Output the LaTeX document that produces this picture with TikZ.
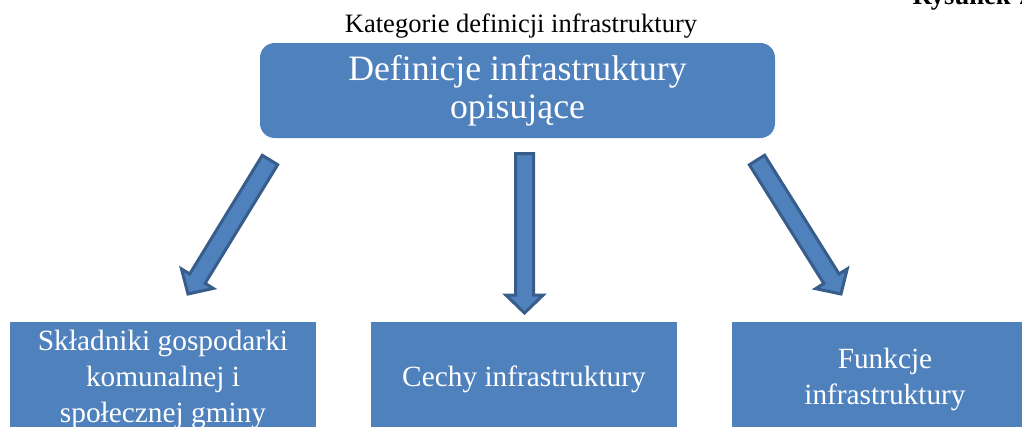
\documentclass[tikz,border=0pt]{standalone}
\usepackage{fontspec}
\setmainfont{Liberation Serif}
\usetikzlibrary{calc}
\definecolor{boxblue}{RGB}{79,129,189}
\definecolor{edgeblue}{RGB}{56,93,138}

% block arrow from tail #1 to tip #2; #3 names the point where the head starts
\newcommand\blockarrow[3]{%
  \coordinate (#3) at ($(#2)!13.5pt!(#1)$);
  \draw[arrowshape]
    ($(#1)!6.75pt!90:(#2)$) -- ($(#3)!6.75pt!90:(#2)$) -- ($(#3)!14pt!90:(#2)$)
    -- (#2) -- ($(#3)!14pt!-90:(#2)$) -- ($(#3)!6.75pt!-90:(#2)$)
    -- ($(#1)!6.75pt!-90:(#2)$) -- cycle;
}

\begin{document}
\begin{tikzpicture}[x=0.75pt,y=-0.75pt,
  topbox/.style={fill=boxblue, rounded corners=11pt, text=white, align=center,
    minimum width=386.25pt, minimum height=71.25pt, inner sep=0pt,
    font=\fontsize{26.8}{28.3}\selectfont},
  lowbox/.style={fill=boxblue, text=white, align=center,
    minimum width=229.5pt, minimum height=85.5pt, inner sep=0pt,
    font=\fontsize{22}{27}\selectfont},
  arrowshape/.style={fill=boxblue, draw=edgeblue, line width=2.25pt, line join=miter},
  caption/.style={font=\fontsize{19.9}{22}\selectfont, anchor=base}]
\useasboundingbox (0,0) rectangle (1022,426);
\clip (0,0) rectangle (1022,426);

\node[caption] (cap) at (521,32) {Kategorie definicji infrastruktury};
\node[caption, anchor=base west, font=\bfseries\fontsize{19.9}{22}\selectfont] (fig) at (908,4) {Rysunek 7};

\node[topbox] (top) at (517.5,90.5) {Definicje infrastruktury\\opisujące};

\node[lowbox] (left) at (163,379) {Składniki gospodarki\\komunalnej i\\społecznej gminy};
\node[lowbox] (mid) at (524,379) {Cechy infrastruktury};
\node[lowbox] (right) at (885,379) {Funkcje\\infrastruktury};

% arrows below the top box
\coordinate (lt) at (270,160);
\coordinate (lh) at (188,294);
\coordinate (mt) at (524.5,153.5);
\coordinate (mh) at (524.5,313);
\coordinate (rt) at (757,160);
\coordinate (rh) at (841,294);
\blockarrow{lt}{lh}{lb}
\blockarrow{mt}{mh}{mb}
\blockarrow{rt}{rh}{rb}
\end{tikzpicture}
\end{document}
